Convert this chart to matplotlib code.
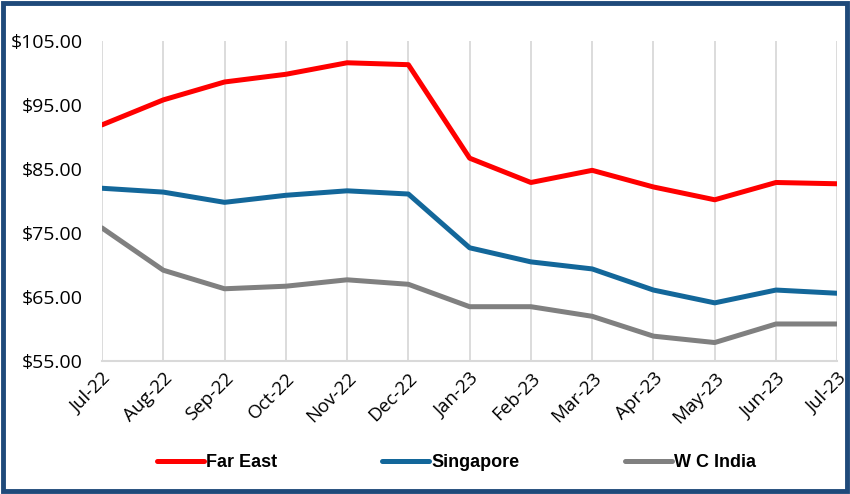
#!/usr/bin/env python3

import matplotlib.pyplot as plt
from matplotlib.patches import Rectangle
from matplotlib.ticker import FuncFormatter

months = ["Jul-22", "Aug-22", "Sep-22", "Oct-22", "Nov-22", "Dec-22",
          "Jan-23", "Feb-23", "Mar-23", "Apr-23", "May-23", "Jun-23", "Jul-23"]

far_east = [91.9, 95.8, 98.6, 99.8, 101.6, 101.3,
            86.7, 82.9, 84.8, 82.2, 80.2, 82.9, 82.7]
singapore = [82.0, 81.4, 79.8, 80.9, 81.6, 81.1,
             72.7, 70.5, 69.4, 66.1, 64.1, 66.1, 65.6]
wc_india = [75.8, 69.2, 66.3, 66.7, 67.7, 67.0,
            63.5, 63.5, 62.0, 58.9, 57.9, 60.8, 60.8]

y_ticks = [55, 65, 75, 85, 95, 105]

RED = "#FF0000"
BLUE = "#13679A"
GREY = "#808080"
NAVY = "#1F4A7A"
GRID = "#D9D9D9"

plt.rc('font', family=["Open Sans", "DejaVu Sans"])

fig = plt.figure(figsize=(8.5, 4.94), dpi=100)
ax = fig.add_axes([0.12, 0.269, 0.865, 0.648])

x = list(range(len(months)))
kw = dict(linewidth=3.6, solid_capstyle="round", solid_joinstyle="round")
ax.plot(x, far_east, color=RED, label="Far East", **kw)
ax.plot(x, singapore, color=BLUE, label="Singapore", **kw)
ax.plot(x, wc_india, color=GREY, label="W C India", **kw)

ax.set_xlim(0, len(months) - 1)
ax.set_ylim(55, 105)
ax.set_yticks(y_ticks)
ax.yaxis.set_major_formatter(FuncFormatter(lambda v, p: "${:.2f}".format(v)))
ax.set_xticks(x)
ax.set_xticklabels(months, rotation=45, ha="right", rotation_mode="anchor")
ax.tick_params(axis="both", length=0, colors="black")
ax.tick_params(axis="y", pad=14, labelsize=14)
ax.tick_params(axis="x", pad=6, labelsize=13.5)

### Vertical grid only, light grey baseline
ax.grid(axis="x", color=GRID, linewidth=1.3)
ax.set_axisbelow(True)
for side in ["top", "right", "left"]:
    ax.spines[side].set_visible(False)
ax.spines["bottom"].set_color(GRID)
ax.spines["bottom"].set_linewidth(1.5)

leg = fig.legend(loc="center", bbox_to_anchor=(0.537, 0.063), ncol=3,
                 frameon=False, handlelength=2.6, handletextpad=0.15,
                 columnspacing=5.8,
                 prop=dict(family=["Liberation Sans Narrow", "Liberation Sans"],
                           weight="bold", size=13))

### Outer frame
fig.patches.append(Rectangle((0.004, 0.006), 0.992, 0.988, transform=fig.transFigure,
                             fill=False, edgecolor=NAVY, linewidth=3.5))

plt.savefig("out.png", dpi=100)
